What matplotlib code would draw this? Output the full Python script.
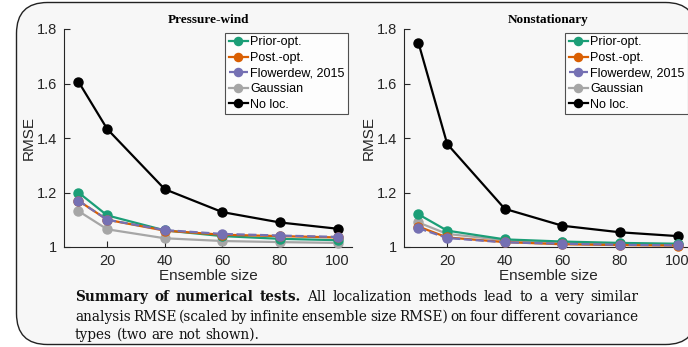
import matplotlib
matplotlib.use('Agg')
import matplotlib.pyplot as plt
from matplotlib.patches import FancyBboxPatch

# ensemble sizes
sizes = [10, 20, 40, 60, 80, 100]

# Pressure-wind panel
pw_prior = [1.200, 1.116, 1.061, 1.040, 1.030, 1.025]
pw_post = [1.170, 1.100, 1.060, 1.045, 1.040, 1.035]
pw_flower = [1.170, 1.100, 1.062, 1.048, 1.042, 1.037]
pw_gauss = [1.132, 1.065, 1.032, 1.022, 1.018, 1.015]
pw_noloc = [1.607, 1.433, 1.212, 1.128, 1.090, 1.067]

# Nonstationary panel
ns_prior = [1.120, 1.060, 1.028, 1.020, 1.015, 1.012]
ns_post = [1.075, 1.035, 1.018, 1.010, 1.007, 1.005]
ns_flower = [1.069, 1.033, 1.017, 1.012, 1.008, 1.006]
ns_gauss = [1.090, 1.048, 1.025, 1.017, 1.012, 1.010]
ns_noloc = [1.750, 1.378, 1.140, 1.078, 1.054, 1.040]

labels = ['Prior-opt.', 'Post.-opt.', 'Flowerdew, 2015', 'Gaussian', 'No loc.']
colors = ['#1b9e77', '#d95f02', '#7570b3', '#a6a6a6', '#000000']
styles = ['-', '-', '--', '-', '-']

panels = [
    ('Pressure-wind', [pw_prior, pw_post, pw_flower, pw_gauss, pw_noloc]),
    ('Nonstationary', [ns_prior, ns_post, ns_flower, ns_gauss, ns_noloc]),
]

W, H = 688, 347
fig = plt.figure(figsize=(W / 100, H / 100), dpi=100)
fig.patch.set_facecolor('white')

# rounded frame behind everything
box = FancyBboxPatch((16.5 / W, 2.5 / H), 680 / W, 342 / H,
                     boxstyle='round,pad=0,rounding_size=0.045',
                     transform=fig.transFigure, facecolor='#f7f7f7',
                     edgecolor='#222222', linewidth=1.0, zorder=-5,
                     mutation_aspect=W / H)
fig.patches.append(box)

sans = 'Liberation Sans'
serif = 'Liberation Serif'
capfont = 'DejaVu Serif'

axes_px = [(64, 352), (404, 692)]
for (title, series), (x0, x1) in zip(panels, axes_px):
    ax = fig.add_axes([x0 / W, 1 - 247 / H, (x1 - x0) / W, (247 - 29) / H])
    ax.set_facecolor('none')
    order = [4, 3, 0, 1, 2]
    for i in order:
        ax.plot(sizes, series[i], linestyle=styles[i], color=colors[i],
                marker='o', markersize=6.5, linewidth=1.6, label=labels[i],
                clip_on=False, zorder=3)
    ax.set_xlim(5, 105)
    ax.set_ylim(1, 1.8)
    ax.set_xticks([20, 40, 60, 80, 100])
    ax.set_yticks([1, 1.2, 1.4, 1.6, 1.8])
    ax.set_yticklabels(['1', '1.2', '1.4', '1.6', '1.8'])
    for s in ['top', 'right']:
        ax.spines[s].set_visible(False)
    for s in ['left', 'bottom']:
        ax.spines[s].set_color('#262626')
        ax.spines[s].set_linewidth(0.8)
    ax.tick_params(direction='in', length=4, width=0.8, colors='#262626',
                   labelsize=10.5, pad=5)
    for lab in ax.get_xticklabels() + ax.get_yticklabels():
        lab.set_fontfamily(sans)
    ax.set_xlabel('Ensemble size', fontsize=11, fontfamily=sans,
                  color='#262626', labelpad=1)
    ax.set_ylabel('RMSE', fontsize=11, fontfamily=sans, color='#262626',
                  labelpad=1)
    ax.set_title(title, fontsize=9.5, fontfamily=serif, fontweight='bold',
                 pad=4)
    handles, labs = ax.get_legend_handles_labels()
    hmap = dict(zip(labs, handles))
    leg = ax.legend([hmap[l] for l in labels], labels, loc='upper right',
                    bbox_to_anchor=(1.0, 1.0),
                    prop={'family': sans, 'size': 9}, frameon=True,
                    fancybox=False, edgecolor='#262626', facecolor='white',
                    handlelength=1.5, handletextpad=0.2, borderpad=0.3,
                    labelspacing=0.28, borderaxespad=0.3, markerscale=0.9)
    leg.get_frame().set_linewidth(0.8)

# caption, justified between two pixel columns
cap_left, cap_right, cap_size = 75, 638, 9.8
caption = [
    ([('Summary', True), ('of', True), ('numerical', True), ('tests.', True),
      ('All', False), ('localization', False), ('methods', False),
      ('lead', False), ('to', False), ('a', False), ('very', False),
      ('similar', False)], 297, True),
    ([(w, False) for w in 'analysis RMSE (scaled by infinite ensemble size RMSE) on four different covariance'.split()], 317, True),
    ([(w, False) for w in 'types (two are not shown).'.split()], 335, False),
]
renderer = fig.canvas.get_renderer()
probe = fig.text(0, 0, 'a a', fontsize=cap_size, fontfamily=capfont)
probe1 = fig.text(0, 0, 'aa', fontsize=cap_size, fontfamily=capfont)
sw = probe.get_window_extent(renderer).width - probe1.get_window_extent(renderer).width
probe.remove()
probe1.remove()
for words, y, justify in caption:
    texts = []
    for w, bold in words:
        t = fig.text(0, 1 - y / H, w, fontsize=cap_size, fontfamily=capfont,
                     fontweight='bold' if bold else 'normal',
                     va='center', ha='left', color='#111111')
        texts.append(t)
    widths = [t.get_window_extent(renderer).width for t in texts]
    if justify and len(texts) > 1:
        gap = (cap_right - cap_left - sum(widths)) / (len(texts) - 1)
    else:
        gap = sw
    x = cap_left
    for t, wd in zip(texts, widths):
        t.set_x(x / W)
        x += wd + gap

fig.savefig('out.png', dpi=100, facecolor='white')
